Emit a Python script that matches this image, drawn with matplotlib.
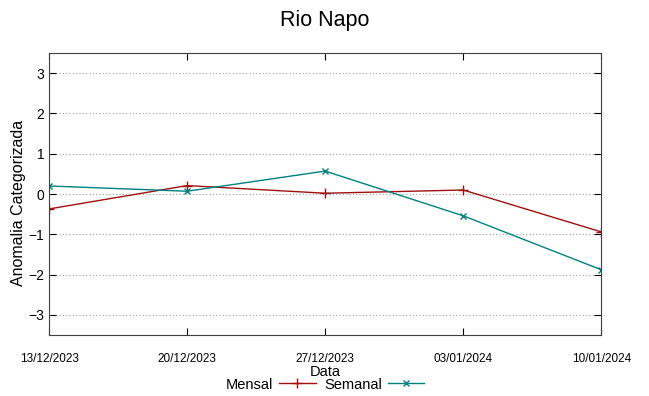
import matplotlib
matplotlib.use("Agg")
import matplotlib.pyplot as plt
from datetime import datetime

datas = ["13/12/2023", "20/12/2023", "27/12/2023", "03/01/2024", "10/01/2024"]
mensal = [-0.37, 0.21, 0.02, 0.10, -0.94]
semanal = [0.20, 0.07, 0.57, -0.54, -1.88]

plt.rcParams['font.family'] = ['Liberation Sans', 'DejaVu Sans']

x = [datetime.strptime(d, "%d/%m/%Y") for d in datas]

fig = plt.figure(figsize=(6.49, 3.96), dpi=100)
ax = fig.add_axes([0.0755, 0.154, 0.851, 0.712])

ax.plot(x, mensal, color="#a01010", lw=1, marker="+", ms=7, mew=1, label="Mensal")
ax.plot(x, semanal, color="#008080", lw=1, marker="x", ms=5, mew=1, label="Semanal")

ax.set_xlim(x[0], x[-1])
ax.set_ylim(-3.5, 3.5)
ax.set_yticks([-3, -2, -1, 0, 1, 2, 3])
ax.set_xticks(x)
ax.set_xticklabels(datas, fontsize=8.5)
ax.tick_params(axis="both", direction="in", top=True, right=True, length=5, width=0.8)
ax.tick_params(axis="x", pad=13)
ax.tick_params(axis="y", labelsize=10)
ax.grid(axis="y", color="#a0a0a0", ls=(0, (1, 2)), lw=0.8)
for s in ax.spines.values():
    s.set_color("#404040")
    s.set_linewidth(0.8)

ax.set_ylabel("Anomalia Categorizada", fontsize=11.5)
ax.yaxis.set_label_coords(-0.042, 0.47)
ax.set_xlabel("Data", fontsize=10.5, labelpad=0)
fig.suptitle("Rio Napo", fontsize=15.5, y=0.975)

ax.legend(loc="upper center", bbox_to_anchor=(0.5, -0.125), ncol=2, frameon=False,
          markerfirst=False, fontsize=10.5, handlelength=2.5, handletextpad=0.4,
          columnspacing=0.6, borderpad=0)

fig.savefig("out.png", dpi=100)
